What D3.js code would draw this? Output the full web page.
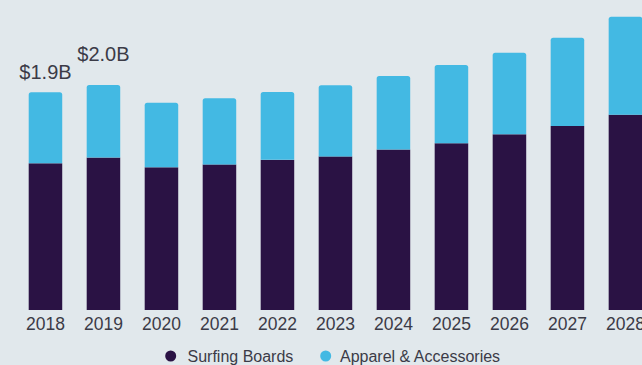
<!DOCTYPE html>
<html>
<head>
<meta charset="utf-8">
<script src="https://cdn.jsdelivr.net/npm/d3@7/dist/d3.min.js"></script>
<style>
  html, body { margin: 0; padding: 0; background: #e1e8ec; overflow: hidden; }
  svg { display: block; }
  text { font-family: "Liberation Sans", Arial, sans-serif; }
</style>
</head>
<body>
<svg id="chart" width="642" height="365"></svg>
<script>
const years = ["2018","2019","2020","2021","2022","2023","2024","2025","2026","2027","2028"];
const surfingBoards = [1.28, 1.33, 1.245, 1.27, 1.31, 1.34, 1.40, 1.455, 1.533, 1.606, 1.704];
const apparel = [0.62, 0.634, 0.564, 0.577, 0.592, 0.621, 0.642, 0.683, 0.712, 0.77, 0.855];
const valueLabels = ["$1.9B", "$2.0B"];
const seriesNames = ["Surfing Boards", "Apparel & Accessories"];

const colors = { dark: "#2a1244", blue: "#43b9e3", text: "#3b3b47", bg: "#e1e8ec" };

const svg = d3.select("#chart");
const baseline = 310;
const pxPerB = 114.6;

const x = d3.scaleBand().domain(years).range([28.7, 642.2]).paddingInner(0.422).paddingOuter(0);
const y = d3.scaleLinear().domain([0, 2.5]).range([baseline, baseline - 2.5 * pxPerB]);

const data = years.map((yr, i) => ({ year: yr, s: surfingBoards[i], a: apparel[i] }));

// dark segment
svg.append("g").selectAll("rect").data(data).join("rect")
  .attr("x", d => x(d.year))
  .attr("width", x.bandwidth())
  .attr("y", d => y(d.s))
  .attr("height", d => y(0) - y(d.s))
  .attr("fill", colors.dark);

// blue segment with rounded top corners
function topRounded(x0, y0, w, h, r) {
  return `M${x0},${y0 + h}V${y0 + r}Q${x0},${y0} ${x0 + r},${y0}H${x0 + w - r}Q${x0 + w},${y0} ${x0 + w},${y0 + r}V${y0 + h}Z`;
}
svg.append("g").selectAll("path").data(data).join("path")
  .attr("d", d => {
    const top = y(d.s + d.a);
    const bot = y(d.s);
    return topRounded(x(d.year), top, x.bandwidth(), bot - top, 2.5);
  })
  .attr("fill", colors.blue);

// value labels
const labelOffsets = [13.3, 23.5];
svg.append("g").selectAll("text").data(valueLabels).join("text")
  .attr("x", (d, i) => x(years[i]) + x.bandwidth() / 2)
  .attr("y", (d, i) => y(surfingBoards[i] + apparel[i]) - labelOffsets[i])
  .attr("text-anchor", "middle")
  .attr("font-size", "20px")
  .attr("fill", colors.text)
  .text(d => d);

// x axis
const xAxis = d3.axisBottom(x).tickSize(0).tickPadding(0);
const gx = svg.append("g").attr("transform", `translate(0,${baseline})`).call(xAxis);
gx.select(".domain").remove();
gx.selectAll("text")
  .attr("dy", null)
  .attr("y", 20)
  .attr("font-size", "17.5px")
  .attr("font-family", "'Liberation Sans', Arial, sans-serif")
  .attr("fill", colors.text);

// legend
const legend = svg.append("g");
const legendItems = [
  { name: seriesNames[0], color: colors.dark, cx: 170.7, tx: 187.5 },
  { name: seriesNames[1], color: colors.blue, cx: 325.7, tx: 340 }
];
legendItems.forEach(it => {
  legend.append("circle").attr("cx", it.cx).attr("cy", 356).attr("r", 5.5).attr("fill", it.color);
  legend.append("text").attr("x", it.tx).attr("y", 361.5).attr("font-size", "16px").attr("fill", colors.text).text(it.name);
});
</script>
</body>
</html>
